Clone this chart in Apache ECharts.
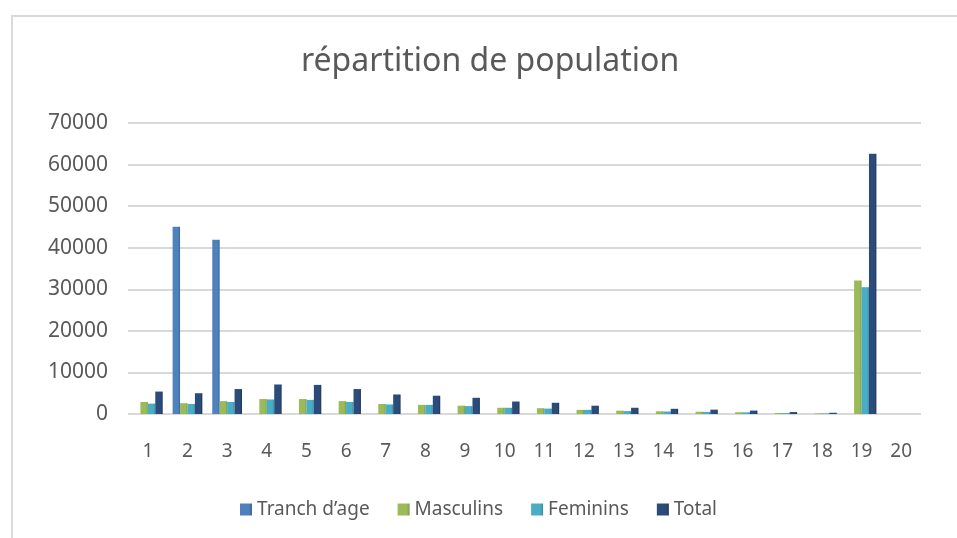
<!DOCTYPE html>
<html><head><meta charset="utf-8">
<script src="https://cdn.jsdelivr.net/npm/echarts@6/dist/echarts.min.js"></script>
<style>
html,body{margin:0;padding:0;background:#fff;}
#frame{position:absolute;left:11px;top:15px;width:960px;height:560px;border:2px solid #D9D9D9;box-sizing:border-box;}
#c{position:absolute;left:0;top:0;width:957px;height:538px;}
</style></head>
<body>
<div id="frame"></div>
<div id="c"></div>
<script>
const categories = ['1','2','3','4','5','6','7','8','9','10','11','12','13','14','15','16','17','18','19','20'];
const seriesNames = ['Tranch d\u2019age','Masculins','Feminins','Total'];
const tranchAge = [0,45055,41926,0,0,0,0,0,0,0,0,0,0,0,0,0,0,0,0,null];
const masculins = [2900,2600,3100,3600,3600,3100,2400,2200,2000,1500,1400,1000,800,650,550,420,250,150,32100,null];
const feminins  = [2500,2400,2900,3500,3400,2900,2300,2200,1900,1500,1300,1000,700,600,500,400,220,150,30500,null];
const total     = [5400,5000,6000,7100,7000,6000,4700,4400,3900,3000,2700,2000,1500,1250,1050,820,470,300,62600,null];
const yTicks = [0,10000,20000,30000,40000,50000,60000,70000];

const colors = ['#4F81BD','#9BBB59','#4BACC6','#2B4C7A'];
const dark = ['#3A6699','#7E9C43','#368EA6','#1C3557'];
function grad(i){
  return new echarts.graphic.LinearGradient(0,0,1,0,[
    {offset:0,color:colors[i]},{offset:0.75,color:colors[i]},{offset:1,color:dark[i]}
  ]);
}
const dataSets = [tranchAge, masculins, feminins, total];
const chart = echarts.init(document.getElementById('c'));
chart.setOption({
  animation:false,
  title:{text:'répartition de population',left:296,top:41,
    textStyle:{fontFamily:'Noto Sans',fontSize:32,fontWeight:'normal',color:'#595959'}},
  legend:{bottom:14,left:'center',itemWidth:12,itemHeight:12,itemGap:28,icon:'rect',
    textStyle:{fontFamily:'Noto Sans',fontSize:19,color:'#595959'},
    data:seriesNames},
  grid:{left:128,right:36,top:123,bottom:124},
  xAxis:{type:'category',data:categories,
    axisLine:{show:false},axisTick:{show:false},
    axisLabel:{fontFamily:'Noto Sans',fontSize:19,color:'#595959',margin:28}},
  yAxis:{type:'value',min:yTicks[0],max:yTicks[yTicks.length-1],interval:10000,
    axisLine:{show:false},axisTick:{show:false},
    splitLine:{lineStyle:{color:'#D9D9D9',width:2}},
    axisLabel:{fontFamily:'Noto Sans',fontSize:21,color:'#595959',margin:20,
      padding:[8,0,0,0],formatter:v=>String(v)}},
  series:dataSets.map((d,i)=>({
    name:seriesNames[i],type:'bar',data:d,barGap:'0%',barCategoryGap:'25%',
    itemStyle:{color:grad(i)}
  })),
  color:colors
});
</script>
</body></html>
